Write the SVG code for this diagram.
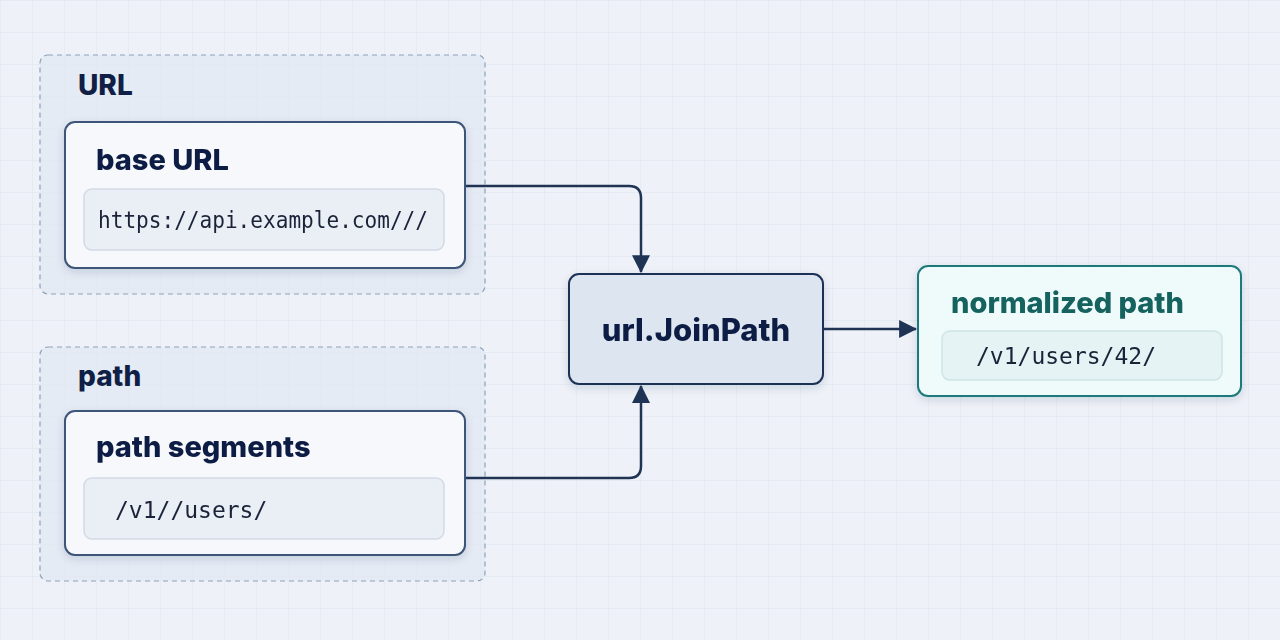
<svg xmlns="http://www.w3.org/2000/svg" width="1280" height="640" viewBox="0 0 1280 640">
<defs>
<pattern id="grid" width="32" height="32" patternUnits="userSpaceOnUse"><path d="M32 0H0V32" fill="none" stroke="#dbe3ee" stroke-width="1"/></pattern>
<marker id="arr" markerWidth="18" markerHeight="18" refX="15" refY="8" orient="auto" markerUnits="userSpaceOnUse" viewBox="0 0 16 16"><path d="M0 0L16 8L0 16z" fill="#1f3355"/></marker>
<filter id="sh" x="-10%" y="-10%" width="120%" height="130%"><feDropShadow dx="0" dy="3" stdDeviation="4" flood-color="#1f3355" flood-opacity="0.15"/></filter>
</defs>
<style>
.grp{fill:#e2e9f2;fill-opacity:.8;stroke:#8ca2bb;stroke-width:1.2;stroke-dasharray:5 4}
.node{fill:#f6f8fc;stroke:#3d5478;stroke-width:2}
.code{fill:#eaeff5;stroke:#d2dae5;stroke-width:1.5}
.t{font-family:"Inter","Liberation Sans",sans-serif;font-weight:800;fill:#0f1f45}
.m{font-family:"DejaVu Sans Mono","Liberation Mono",monospace;font-size:23px;fill:#1a2238}
.c{fill:none;stroke:#1f3355;stroke-width:2.5}
</style>
<rect width="1280" height="640" fill="#eef2f8"/>
<rect width="1280" height="640" fill="url(#grid)"/>
<g id="group-url">
<rect class="grp" x="40" y="55" width="445" height="239" rx="8"/>
<text class="t" x="78" y="95" font-size="28">URL</text>
</g>
<g id="group-path">
<rect class="grp" x="40" y="347" width="445" height="234" rx="8"/>
<text class="t" x="78" y="386" font-size="28">path</text>
</g>
<g id="base-url" filter="url(#sh)">
<rect class="node" x="65" y="122" width="400" height="146" rx="10"/>
<text class="t" x="96" y="170" font-size="29">base URL</text>
<rect class="code" x="84" y="189" width="360" height="61" rx="8"/>
<text class="m" x="98" y="228" textLength="330" lengthAdjust="spacingAndGlyphs">https://api.example.com///</text>
</g>
<g id="path-segments" filter="url(#sh)">
<rect class="node" x="65" y="411" width="400" height="144" rx="10"/>
<text class="t" x="96" y="457" font-size="29">path segments</text>
<rect class="code" x="84" y="478" width="360" height="61" rx="8"/>
<text class="m" x="115" y="518">/v1//users/</text>
</g>
<g id="joinpath" filter="url(#sh)">
<rect x="569" y="274" width="254" height="110" rx="10" fill="#dde5f0" stroke="#1f3355" stroke-width="2"/>
<text class="t" x="696" y="341" font-size="31" text-anchor="middle">url.JoinPath</text>
</g>
<g id="normalized" filter="url(#sh)">
<rect x="918" y="266" width="323" height="130" rx="10" fill="#effafa" stroke="#1e7a7a" stroke-width="2"/>
<text class="t" x="951" y="313" font-size="29" style="fill:#13625f">normalized path</text>
<rect x="942" y="331" width="280" height="49" rx="8" fill="#e6f3f4" stroke="#cfe3e5" stroke-width="1.5"/>
<text class="m" x="976" y="364">/v1/users/42/</text>
</g>
<g id="connectors">
<path class="c" d="M466 186H629Q641 186 641 198V272" marker-end="url(#arr)"/>
<path class="c" d="M466 478H629Q641 478 641 466V386" marker-end="url(#arr)"/>
<path class="c" d="M823 329H916" marker-end="url(#arr)"/>
</g>
</svg>
